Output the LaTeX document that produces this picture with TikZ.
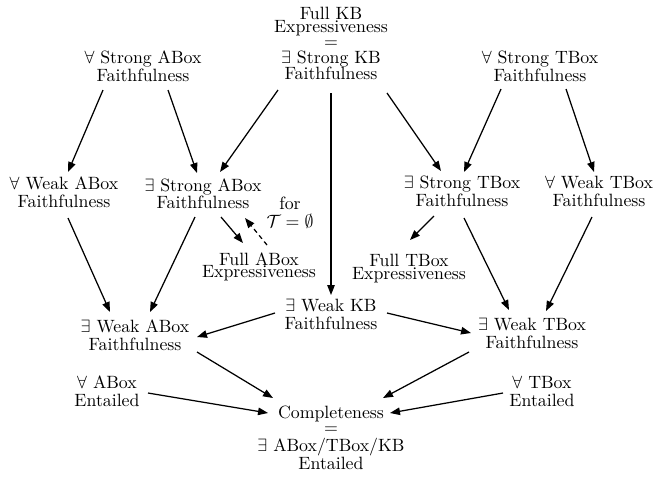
\documentclass[tikz,border=0pt]{standalone}
\usetikzlibrary{arrows.meta}
\begin{document}
\begin{tikzpicture}[x=0.5618pt,y=-0.5618pt,
  lbl/.style={inner sep=0pt, outer sep=0pt, anchor=north, align=center,
              font=\fontsize{10}{10}\selectfont},
  arr/.style={line width=0.7pt, -{Triangle[length=5.6pt,width=4.2pt]}},
  dsh/.style={arr, dash pattern=on 2.5pt off 2pt}]
\useasboundingbox (0,0) rectangle (654,478);

\node[lbl] (kb)   at (331,7.6)   {Full KB\\[-2.9pt]Expressiveness\\[-1.9pt]$=$\\[-0.9pt]$\exists$ Strong KB\\[-0.6pt]Faithfulness};
\node[lbl] (sA)   at (143,51)    {$\forall$ Strong ABox\\Faithfulness};
\node[lbl] (sT)   at (540,51)    {$\forall$ Strong TBox\\Faithfulness};
\node[lbl] (wA)   at (64,176.6)  {$\forall$ Weak ABox\\Faithfulness};
\node[lbl] (eSA)  at (203,178.3) {$\exists$ Strong ABox\\Faithfulness};
\node[lbl] (eST)  at (462,175.9) {$\exists$ Strong TBox\\Faithfulness};
\node[lbl] (wT)   at (599,175.9) {$\forall$ Weak TBox\\Faithfulness};
\node[lbl] (for)  at (290,196.9) {for\\$\mathcal{T}=\emptyset$};
\node[lbl] (fA)   at (259,252.6) {Full ABox\\[-3pt]Expressiveness};
\node[lbl] (fT)   at (409,254.6) {Full TBox\\[-2.7pt]Expressiveness};
\node[lbl] (wKB)  at (331,299.6) {$\exists$ Weak KB\\Faithfulness};
\node[lbl] (eWA)  at (135,319.6) {$\exists$ Weak ABox\\Faithfulness};
\node[lbl] (eWT)  at (532,318.6) {$\exists$ Weak TBox\\Faithfulness};
\node[lbl] (aAE)  at (107,375.6) {$\forall$ ABox\\Entailed};
\node[lbl] (aTE)  at (542,376.6) {$\forall$ TBox\\Entailed};
\node[lbl] (comp) at (331,406)   {Completeness\\[-1.35pt]$=$\\$\exists$ ABox/TBox/KB\\Entailed};

\draw[arr] ([shift={(-40,39)}]sA.north)   -- ([shift={(4,-4.6)}]wA.north);
\draw[arr] ([shift={(25,39)}]sA.north)    -- ([shift={(-6,-5.3)}]eSA.north);
\draw[arr] ([shift={(-53,82.4)}]kb.north) -- ([shift={(17,-6.3)}]eSA.north);
\draw[arr] ([shift={(0,85.4)}]kb.north)   -- ([shift={(0,-4.6)}]wKB.north);
\draw[arr] ([shift={(56,85.4)}]kb.north)  -- ([shift={(-21,-4.9)}]eST.north);
\draw[arr] ([shift={(-39,38)}]sT.north)   -- ([shift={(2,-3.9)}]eST.north);
\draw[arr] ([shift={(26,38)}]sT.north)    -- ([shift={(-5,-3.9)}]wT.north);
\draw[arr] ([shift={(4,41.4)}]wA.north)   -- ([shift={(-25,-7.6)}]eWA.north);
\draw[arr] ([shift={(-8,38.7)}]eSA.north) -- ([shift={(15,-7.6)}]eWA.north);
\draw[arr] ([shift={(18,38.7)}]eSA.north) -- ([shift={(-16,-9.6)}]fA.north);
\draw[dsh] ([shift={(8,-7.6)}]fA.north)   -- ([shift={(42,39.7)}]eSA.north);
\draw[arr] ([shift={(-28,40.1)}]eST.north) -- ([shift={(1,-14.6)}]fT.north);
\draw[arr] ([shift={(2,42.1)}]eST.north)  -- ([shift={(-23,-8.6)}]eWT.north);
\draw[arr] ([shift={(-7,41.1)}]wT.north)  -- ([shift={(14,-7.6)}]eWT.north);
\draw[arr] ([shift={(-56,13.4)}]wKB.north) -- ([shift={(62,17.4)}]eWA.north);
\draw[arr] ([shift={(56,13.4)}]wKB.north) -- ([shift={(-61,14.4)}]eWT.north);
\draw[arr] ([shift={(62,32.4)}]eWA.north) -- ([shift={(-58,-8)}]comp.north);
\draw[arr] ([shift={(41,17.4)}]aAE.north) -- ([shift={(-63,7)}]comp.north);
\draw[arr] ([shift={(-63,33.4)}]eWT.north) -- ([shift={(52,-8)}]comp.north);
\draw[arr] ([shift={(-39,16.4)}]aTE.north) -- ([shift={(59,7)}]comp.north);
\end{tikzpicture}
\end{document}
